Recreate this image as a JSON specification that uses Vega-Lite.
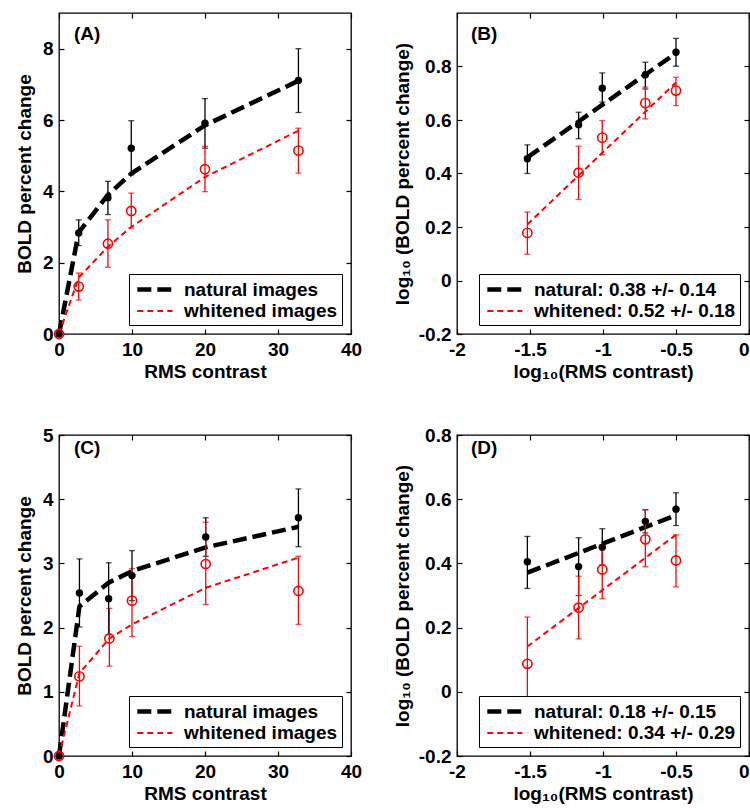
{
  "$schema": "https://vega.github.io/schema/vega-lite/v6.json",
  "padding": {"left": 14, "top": 11, "right": 0, "bottom": 0},
  "bounds": "flush",
  "columns": 2,
  "spacing": {"row": 101, "column": 106},
  "resolve": {
    "scale": {"color": "independent", "strokeDash": "independent", "strokeWidth": "independent", "x": "independent", "y": "independent"},
    "legend": {"color": "independent", "strokeDash": "independent", "strokeWidth": "independent"}
  },
  "datasets": {
    "A": [
      {"k": "fit", "s": "natural images", "x": 0, "y": 0},
      {"k": "fit", "s": "natural images", "x": 2.7, "y": 2.85},
      {"k": "fit", "s": "natural images", "x": 6.7, "y": 3.9},
      {"k": "fit", "s": "natural images", "x": 9.9, "y": 4.5},
      {"k": "fit", "s": "natural images", "x": 20, "y": 5.85},
      {"k": "fit", "s": "natural images", "x": 32.8, "y": 7.1},
      {"k": "fit", "s": "whitened images", "x": 0, "y": 0},
      {"k": "fit", "s": "whitened images", "x": 2.7, "y": 1.58},
      {"k": "fit", "s": "whitened images", "x": 6.7, "y": 2.45},
      {"k": "fit", "s": "whitened images", "x": 9.9, "y": 3.0},
      {"k": "fit", "s": "whitened images", "x": 20, "y": 4.4},
      {"k": "fit", "s": "whitened images", "x": 32.8, "y": 5.7},
      {"k": "obs", "s": "natural images", "x": 0, "y": 0, "lo": 0, "hi": 0},
      {"k": "obs", "s": "natural images", "x": 2.7, "y": 2.83, "lo": 2.48, "hi": 3.2},
      {"k": "obs", "s": "natural images", "x": 6.7, "y": 3.82, "lo": 3.35, "hi": 4.28},
      {"k": "obs", "s": "natural images", "x": 9.9, "y": 5.21, "lo": 4.46, "hi": 5.98},
      {"k": "obs", "s": "natural images", "x": 20, "y": 5.91, "lo": 5.21, "hi": 6.6},
      {"k": "obs", "s": "natural images", "x": 32.8, "y": 7.11, "lo": 6.21, "hi": 8.0},
      {"k": "obs", "s": "whitened images", "x": 0, "y": 0, "lo": 0, "hi": 0},
      {"k": "obs", "s": "whitened images", "x": 2.7, "y": 1.33, "lo": 0.95, "hi": 1.71},
      {"k": "obs", "s": "whitened images", "x": 6.7, "y": 2.53, "lo": 1.87, "hi": 3.2},
      {"k": "obs", "s": "whitened images", "x": 9.9, "y": 3.45, "lo": 2.97, "hi": 3.95},
      {"k": "obs", "s": "whitened images", "x": 20, "y": 4.62, "lo": 3.99, "hi": 5.26},
      {"k": "obs", "s": "whitened images", "x": 32.8, "y": 5.14, "lo": 4.51, "hi": 5.77}
    ],
    "B": [
      {"k": "fit", "s": "natural: 0.38 +/- 0.14", "x": -1.518, "y": 0.46},
      {"k": "fit", "s": "natural: 0.38 +/- 0.14", "x": -0.5, "y": 0.85},
      {"k": "fit", "s": "whitened: 0.52 +/- 0.18", "x": -1.518, "y": 0.21},
      {"k": "fit", "s": "whitened: 0.52 +/- 0.18", "x": -0.5, "y": 0.74},
      {"k": "obs", "s": "natural: 0.38 +/- 0.14", "x": -1.518, "y": 0.455, "lo": 0.4, "hi": 0.507},
      {"k": "obs", "s": "natural: 0.38 +/- 0.14", "x": -1.167, "y": 0.582, "lo": 0.53, "hi": 0.629},
      {"k": "obs", "s": "natural: 0.38 +/- 0.14", "x": -1.005, "y": 0.719, "lo": 0.667, "hi": 0.776},
      {"k": "obs", "s": "natural: 0.38 +/- 0.14", "x": -0.71, "y": 0.769, "lo": 0.716, "hi": 0.816},
      {"k": "obs", "s": "natural: 0.38 +/- 0.14", "x": -0.5, "y": 0.853, "lo": 0.801, "hi": 0.905},
      {"k": "obs", "s": "whitened: 0.52 +/- 0.18", "x": -1.518, "y": 0.178, "lo": 0.098, "hi": 0.256},
      {"k": "obs", "s": "whitened: 0.52 +/- 0.18", "x": -1.167, "y": 0.403, "lo": 0.303, "hi": 0.502},
      {"k": "obs", "s": "whitened: 0.52 +/- 0.18", "x": -1.005, "y": 0.534, "lo": 0.47, "hi": 0.598},
      {"k": "obs", "s": "whitened: 0.52 +/- 0.18", "x": -0.71, "y": 0.663, "lo": 0.604, "hi": 0.723},
      {"k": "obs", "s": "whitened: 0.52 +/- 0.18", "x": -0.5, "y": 0.71, "lo": 0.654, "hi": 0.76}
    ],
    "C": [
      {"k": "fit", "s": "natural images", "x": 0, "y": 0},
      {"k": "fit", "s": "natural images", "x": 2.8, "y": 2.33},
      {"k": "fit", "s": "natural images", "x": 6.8, "y": 2.7},
      {"k": "fit", "s": "natural images", "x": 10, "y": 2.88},
      {"k": "fit", "s": "natural images", "x": 20.1, "y": 3.25},
      {"k": "fit", "s": "natural images", "x": 32.8, "y": 3.57},
      {"k": "fit", "s": "whitened images", "x": 0, "y": 0},
      {"k": "fit", "s": "whitened images", "x": 2.8, "y": 1.29},
      {"k": "fit", "s": "whitened images", "x": 6.9, "y": 1.83},
      {"k": "fit", "s": "whitened images", "x": 10, "y": 2.05},
      {"k": "fit", "s": "whitened images", "x": 20.1, "y": 2.62},
      {"k": "fit", "s": "whitened images", "x": 32.8, "y": 3.09},
      {"k": "obs", "s": "natural images", "x": 0, "y": 0, "lo": 0, "hi": 0},
      {"k": "obs", "s": "natural images", "x": 2.8, "y": 2.54, "lo": 2.01, "hi": 3.07},
      {"k": "obs", "s": "natural images", "x": 6.8, "y": 2.45, "lo": 1.89, "hi": 3.01},
      {"k": "obs", "s": "natural images", "x": 10, "y": 2.81, "lo": 2.42, "hi": 3.2},
      {"k": "obs", "s": "natural images", "x": 20.1, "y": 3.41, "lo": 3.11, "hi": 3.71},
      {"k": "obs", "s": "natural images", "x": 32.8, "y": 3.71, "lo": 3.26, "hi": 4.16},
      {"k": "obs", "s": "whitened images", "x": 0, "y": 0, "lo": 0, "hi": 0},
      {"k": "obs", "s": "whitened images", "x": 2.8, "y": 1.24, "lo": 0.78, "hi": 1.71},
      {"k": "obs", "s": "whitened images", "x": 6.9, "y": 1.83, "lo": 1.4, "hi": 2.3},
      {"k": "obs", "s": "whitened images", "x": 10, "y": 2.42, "lo": 1.86, "hi": 2.92},
      {"k": "obs", "s": "whitened images", "x": 20.1, "y": 2.99, "lo": 2.36, "hi": 3.64},
      {"k": "obs", "s": "whitened images", "x": 32.8, "y": 2.57, "lo": 2.05, "hi": 3.11}
    ],
    "D": [
      {"k": "fit", "s": "natural: 0.18 +/- 0.15", "x": -1.518, "y": 0.371},
      {"k": "fit", "s": "natural: 0.18 +/- 0.15", "x": -0.5, "y": 0.55},
      {"k": "fit", "s": "whitened: 0.34 +/- 0.29", "x": -1.518, "y": 0.141},
      {"k": "fit", "s": "whitened: 0.34 +/- 0.29", "x": -0.5, "y": 0.489},
      {"k": "obs", "s": "natural: 0.18 +/- 0.15", "x": -1.518, "y": 0.405, "lo": 0.322, "hi": 0.484},
      {"k": "obs", "s": "natural: 0.18 +/- 0.15", "x": -1.167, "y": 0.39, "lo": 0.3, "hi": 0.48},
      {"k": "obs", "s": "natural: 0.18 +/- 0.15", "x": -1.005, "y": 0.45, "lo": 0.395, "hi": 0.508},
      {"k": "obs", "s": "natural: 0.18 +/- 0.15", "x": -0.71, "y": 0.531, "lo": 0.495, "hi": 0.567},
      {"k": "obs", "s": "natural: 0.18 +/- 0.15", "x": -0.5, "y": 0.569, "lo": 0.518, "hi": 0.62},
      {"k": "obs", "s": "whitened: 0.34 +/- 0.29", "x": -1.518, "y": 0.087, "lo": -0.06, "hi": 0.233},
      {"k": "obs", "s": "whitened: 0.34 +/- 0.29", "x": -1.167, "y": 0.262, "lo": 0.165, "hi": 0.36},
      {"k": "obs", "s": "whitened: 0.34 +/- 0.29", "x": -1.005, "y": 0.381, "lo": 0.29, "hi": 0.458},
      {"k": "obs", "s": "whitened: 0.34 +/- 0.29", "x": -0.71, "y": 0.475, "lo": 0.39, "hi": 0.567},
      {"k": "obs", "s": "whitened: 0.34 +/- 0.29", "x": -0.5, "y": 0.409, "lo": 0.327, "hi": 0.489}
    ]
  },
  "concat": [
    {
      "width": 292, "height": 321,
      "title": {"text": "(A)", "anchor": "start", "frame": "group", "offset": 0, "dx": 15, "dy": 47, "baseline": "alphabetic"},
      "data": {"name": "A"},
      "layer": [
        {
          "transform": [{"filter": "datum.k === 'fit'"}],
          "mark": {"type": "line"},
          "encoding": {
            "x": {"field": "x", "type": "quantitative", "scale": {"domain": [0, 40], "nice": false}, "axis": {"orient": "bottom", "values": [0, 10, 20, 30, 40], "labelFlush": false, "title": "RMS contrast", "titlePadding": 3}},
            "y": {"field": "y", "type": "quantitative", "scale": {"domain": [0, 9], "nice": false}, "axis": {"orient": "left", "values": [0, 2, 4, 6, 8], "title": "BOLD percent change"}},
            "color": {"field": "s", "type": "nominal", "scale": {"domain": ["natural images", "whitened images"], "range": ["#000000", "#ff0000"]}, "legend": {"title": null}},
            "strokeDash": {"field": "s", "type": "nominal", "scale": {"domain": ["natural images", "whitened images"], "range": [[14, 6], [6, 4]]}, "legend": {"title": null}},
            "strokeWidth": {"field": "s", "type": "nominal", "scale": {"type": "point", "domain": ["natural images", "whitened images"], "range": [4.5, 2]}, "legend": {"title": null}}
          }
        },
        {
          "transform": [{"filter": "datum.k === 'obs'"}],
          "mark": {"type": "errorbar", "ticks": {"size": 6, "thickness": 1.3}, "rule": {"strokeWidth": 1.3}},
          "encoding": {
            "x": {"field": "x", "type": "quantitative", "axis": null},
            "y": {"field": "lo", "type": "quantitative", "axis": null},
            "y2": {"field": "hi"},
            "color": {"field": "s", "type": "nominal", "legend": null}
          }
        },
        {
          "transform": [{"filter": "datum.k === 'obs' && indexof(datum.s, 'natural') === 0"}],
          "mark": {"type": "point", "filled": true, "shape": "circle", "size": 55, "opacity": 1},
          "encoding": {
            "x": {"field": "x", "type": "quantitative", "axis": null},
            "y": {"field": "y", "type": "quantitative", "axis": null},
            "color": {"field": "s", "type": "nominal", "legend": null}
          }
        },
        {
          "transform": [{"filter": "datum.k === 'obs' && indexof(datum.s, 'whitened') === 0"}],
          "mark": {"type": "point", "filled": false, "shape": "circle", "size": 85, "strokeWidth": 1.6, "opacity": 1},
          "encoding": {
            "x": {"field": "x", "type": "quantitative", "axis": {"orient": "top", "values": [0, 10, 20, 30, 40], "labels": false, "title": null}},
            "y": {"field": "y", "type": "quantitative", "axis": {"orient": "right", "values": [0, 2, 4, 6, 8], "labels": false, "title": null}},
            "color": {"field": "s", "type": "nominal", "legend": null}
          }
        }
      ]
    },
    {
      "width": 292, "height": 321,
      "title": {"text": "(B)", "anchor": "start", "frame": "group", "offset": 0, "dx": 14, "dy": 47, "baseline": "alphabetic"},
      "data": {"name": "B"},
      "layer": [
        {
          "transform": [{"filter": "datum.k === 'fit'"}],
          "mark": {"type": "line"},
          "encoding": {
            "x": {"field": "x", "type": "quantitative", "scale": {"domain": [-2, 0], "nice": false}, "axis": {"orient": "bottom", "values": [-2, -1.5, -1, -0.5, 0], "labelFlush": false, "labelAlign": {"condition": {"test": "datum.value === 0", "value": "right"}, "value": "center"}, "labelExpr": "'' + datum.value", "title": "log₁₀(RMS contrast)", "titlePadding": 3}},
            "y": {"field": "y", "type": "quantitative", "scale": {"domain": [-0.2, 1.0], "nice": false}, "axis": {"orient": "left", "values": [-0.2, 0, 0.2, 0.4, 0.6, 0.8], "labelExpr": "'' + datum.value", "title": "log₁₀ (BOLD percent change)", "titlePadding": 6}},
            "color": {"field": "s", "type": "nominal", "scale": {"domain": ["natural: 0.38 +/- 0.14", "whitened: 0.52 +/- 0.18"], "range": ["#000000", "#ff0000"]}, "legend": {"title": null}},
            "strokeDash": {"field": "s", "type": "nominal", "scale": {"domain": ["natural: 0.38 +/- 0.14", "whitened: 0.52 +/- 0.18"], "range": [[14, 6], [6, 4]]}, "legend": {"title": null}},
            "strokeWidth": {"field": "s", "type": "nominal", "scale": {"type": "point", "domain": ["natural: 0.38 +/- 0.14", "whitened: 0.52 +/- 0.18"], "range": [4.5, 2]}, "legend": {"title": null}}
          }
        },
        {
          "transform": [{"filter": "datum.k === 'obs'"}],
          "mark": {"type": "errorbar", "ticks": {"size": 6, "thickness": 1.3}, "rule": {"strokeWidth": 1.3}},
          "encoding": {
            "x": {"field": "x", "type": "quantitative", "axis": null},
            "y": {"field": "lo", "type": "quantitative", "axis": null},
            "y2": {"field": "hi"},
            "color": {"field": "s", "type": "nominal", "legend": null}
          }
        },
        {
          "transform": [{"filter": "datum.k === 'obs' && indexof(datum.s, 'natural') === 0"}],
          "mark": {"type": "point", "filled": true, "shape": "circle", "size": 55, "opacity": 1},
          "encoding": {
            "x": {"field": "x", "type": "quantitative", "axis": null},
            "y": {"field": "y", "type": "quantitative", "axis": null},
            "color": {"field": "s", "type": "nominal", "legend": null}
          }
        },
        {
          "transform": [{"filter": "datum.k === 'obs' && indexof(datum.s, 'whitened') === 0"}],
          "mark": {"type": "point", "filled": false, "shape": "circle", "size": 85, "strokeWidth": 1.6, "opacity": 1},
          "encoding": {
            "x": {"field": "x", "type": "quantitative", "axis": {"orient": "top", "values": [-2, -1.5, -1, -0.5, 0], "labels": false, "title": null}},
            "y": {"field": "y", "type": "quantitative", "axis": {"orient": "right", "values": [-0.2, 0, 0.2, 0.4, 0.6, 0.8], "labels": false, "title": null}},
            "color": {"field": "s", "type": "nominal", "legend": null}
          }
        }
      ]
    },
    {
      "width": 292, "height": 321,
      "title": {"text": "(C)", "anchor": "start", "frame": "group", "offset": 0, "dx": 15, "dy": 47, "baseline": "alphabetic"},
      "data": {"name": "C"},
      "layer": [
        {
          "transform": [{"filter": "datum.k === 'fit'"}],
          "mark": {"type": "line"},
          "encoding": {
            "x": {"field": "x", "type": "quantitative", "scale": {"domain": [0, 40], "nice": false}, "axis": {"orient": "bottom", "values": [0, 10, 20, 30, 40], "labelFlush": false, "title": "RMS contrast", "titlePadding": 3}},
            "y": {"field": "y", "type": "quantitative", "scale": {"domain": [0, 5], "nice": false}, "axis": {"orient": "left", "values": [0, 1, 2, 3, 4, 5], "title": "BOLD percent change"}},
            "color": {"field": "s", "type": "nominal", "scale": {"domain": ["natural images", "whitened images"], "range": ["#000000", "#ff0000"]}, "legend": {"title": null}},
            "strokeDash": {"field": "s", "type": "nominal", "scale": {"domain": ["natural images", "whitened images"], "range": [[14, 6], [6, 4]]}, "legend": {"title": null}},
            "strokeWidth": {"field": "s", "type": "nominal", "scale": {"type": "point", "domain": ["natural images", "whitened images"], "range": [4.5, 2]}, "legend": {"title": null}}
          }
        },
        {
          "transform": [{"filter": "datum.k === 'obs'"}],
          "mark": {"type": "errorbar", "ticks": {"size": 6, "thickness": 1.3}, "rule": {"strokeWidth": 1.3}},
          "encoding": {
            "x": {"field": "x", "type": "quantitative", "axis": null},
            "y": {"field": "lo", "type": "quantitative", "axis": null},
            "y2": {"field": "hi"},
            "color": {"field": "s", "type": "nominal", "legend": null}
          }
        },
        {
          "transform": [{"filter": "datum.k === 'obs' && indexof(datum.s, 'natural') === 0"}],
          "mark": {"type": "point", "filled": true, "shape": "circle", "size": 55, "opacity": 1},
          "encoding": {
            "x": {"field": "x", "type": "quantitative", "axis": null},
            "y": {"field": "y", "type": "quantitative", "axis": null},
            "color": {"field": "s", "type": "nominal", "legend": null}
          }
        },
        {
          "transform": [{"filter": "datum.k === 'obs' && indexof(datum.s, 'whitened') === 0"}],
          "mark": {"type": "point", "filled": false, "shape": "circle", "size": 85, "strokeWidth": 1.6, "opacity": 1},
          "encoding": {
            "x": {"field": "x", "type": "quantitative", "axis": {"orient": "top", "values": [0, 10, 20, 30, 40], "labels": false, "title": null}},
            "y": {"field": "y", "type": "quantitative", "axis": {"orient": "right", "values": [0, 1, 2, 3, 4, 5], "labels": false, "title": null}},
            "color": {"field": "s", "type": "nominal", "legend": null}
          }
        }
      ]
    },
    {
      "width": 292, "height": 321,
      "title": {"text": "(D)", "anchor": "start", "frame": "group", "offset": 0, "dx": 14, "dy": 47, "baseline": "alphabetic"},
      "data": {"name": "D"},
      "layer": [
        {
          "transform": [{"filter": "datum.k === 'fit'"}],
          "mark": {"type": "line"},
          "encoding": {
            "x": {"field": "x", "type": "quantitative", "scale": {"domain": [-2, 0], "nice": false}, "axis": {"orient": "bottom", "values": [-2, -1.5, -1, -0.5, 0], "labelFlush": false, "labelAlign": {"condition": {"test": "datum.value === 0", "value": "right"}, "value": "center"}, "labelExpr": "'' + datum.value", "title": "log₁₀(RMS contrast)", "titlePadding": 3}},
            "y": {"field": "y", "type": "quantitative", "scale": {"domain": [-0.2, 0.8], "nice": false}, "axis": {"orient": "left", "values": [-0.2, 0, 0.2, 0.4, 0.6, 0.8], "labelExpr": "'' + datum.value", "title": "log₁₀ (BOLD percent change)", "titlePadding": 6}},
            "color": {"field": "s", "type": "nominal", "scale": {"domain": ["natural: 0.18 +/- 0.15", "whitened: 0.34 +/- 0.29"], "range": ["#000000", "#ff0000"]}, "legend": {"title": null}},
            "strokeDash": {"field": "s", "type": "nominal", "scale": {"domain": ["natural: 0.18 +/- 0.15", "whitened: 0.34 +/- 0.29"], "range": [[14, 6], [6, 4]]}, "legend": {"title": null}},
            "strokeWidth": {"field": "s", "type": "nominal", "scale": {"type": "point", "domain": ["natural: 0.18 +/- 0.15", "whitened: 0.34 +/- 0.29"], "range": [4.5, 2]}, "legend": {"title": null}}
          }
        },
        {
          "transform": [{"filter": "datum.k === 'obs'"}],
          "mark": {"type": "errorbar", "ticks": {"size": 6, "thickness": 1.3}, "rule": {"strokeWidth": 1.3}},
          "encoding": {
            "x": {"field": "x", "type": "quantitative", "axis": null},
            "y": {"field": "lo", "type": "quantitative", "axis": null},
            "y2": {"field": "hi"},
            "color": {"field": "s", "type": "nominal", "legend": null}
          }
        },
        {
          "transform": [{"filter": "datum.k === 'obs' && indexof(datum.s, 'natural') === 0"}],
          "mark": {"type": "point", "filled": true, "shape": "circle", "size": 55, "opacity": 1},
          "encoding": {
            "x": {"field": "x", "type": "quantitative", "axis": null},
            "y": {"field": "y", "type": "quantitative", "axis": null},
            "color": {"field": "s", "type": "nominal", "legend": null}
          }
        },
        {
          "transform": [{"filter": "datum.k === 'obs' && indexof(datum.s, 'whitened') === 0"}],
          "mark": {"type": "point", "filled": false, "shape": "circle", "size": 85, "strokeWidth": 1.6, "opacity": 1},
          "encoding": {
            "x": {"field": "x", "type": "quantitative", "axis": {"orient": "top", "values": [-2, -1.5, -1, -0.5, 0], "labels": false, "title": null}},
            "y": {"field": "y", "type": "quantitative", "axis": {"orient": "right", "values": [-0.2, 0, 0.2, 0.4, 0.6, 0.8], "labels": false, "title": null}},
            "color": {"field": "s", "type": "nominal", "legend": null}
          }
        }
      ]
    }
  ],
  "config": {
    "font": "Liberation Sans",
    "background": "white",
    "view": {"stroke": "black", "strokeWidth": 1.3},
    "axis": {
      "domain": false, "grid": false,
      "tickColor": "black", "tickSize": -5, "tickWidth": 1.2,
      "labelFont": "Liberation Sans", "labelFontSize": 19, "labelFontWeight": "bold", "labelColor": "black", "labelPadding": 11,
      "titleFont": "Liberation Sans", "titleFontSize": 19, "titleFontWeight": "bold", "titleColor": "black", "titlePadding": 8
    },
    "legend": {
      "orient": "bottom-right", "offset": 9,
      "fillColor": "white", "strokeColor": "black",
      "padding": 4, "rowPadding": 1,
      "symbolType": "M-0.8,0H3.1", "symbolSize": 324,
      "labelFont": "Liberation Sans", "labelFontSize": 19, "labelFontWeight": "bold", "labelColor": "black", "labelOffset": 28, "labelLimit": 400
    },
    "title": {"font": "Liberation Sans", "fontSize": 19, "fontWeight": "bold", "color": "black"}
  }
}
